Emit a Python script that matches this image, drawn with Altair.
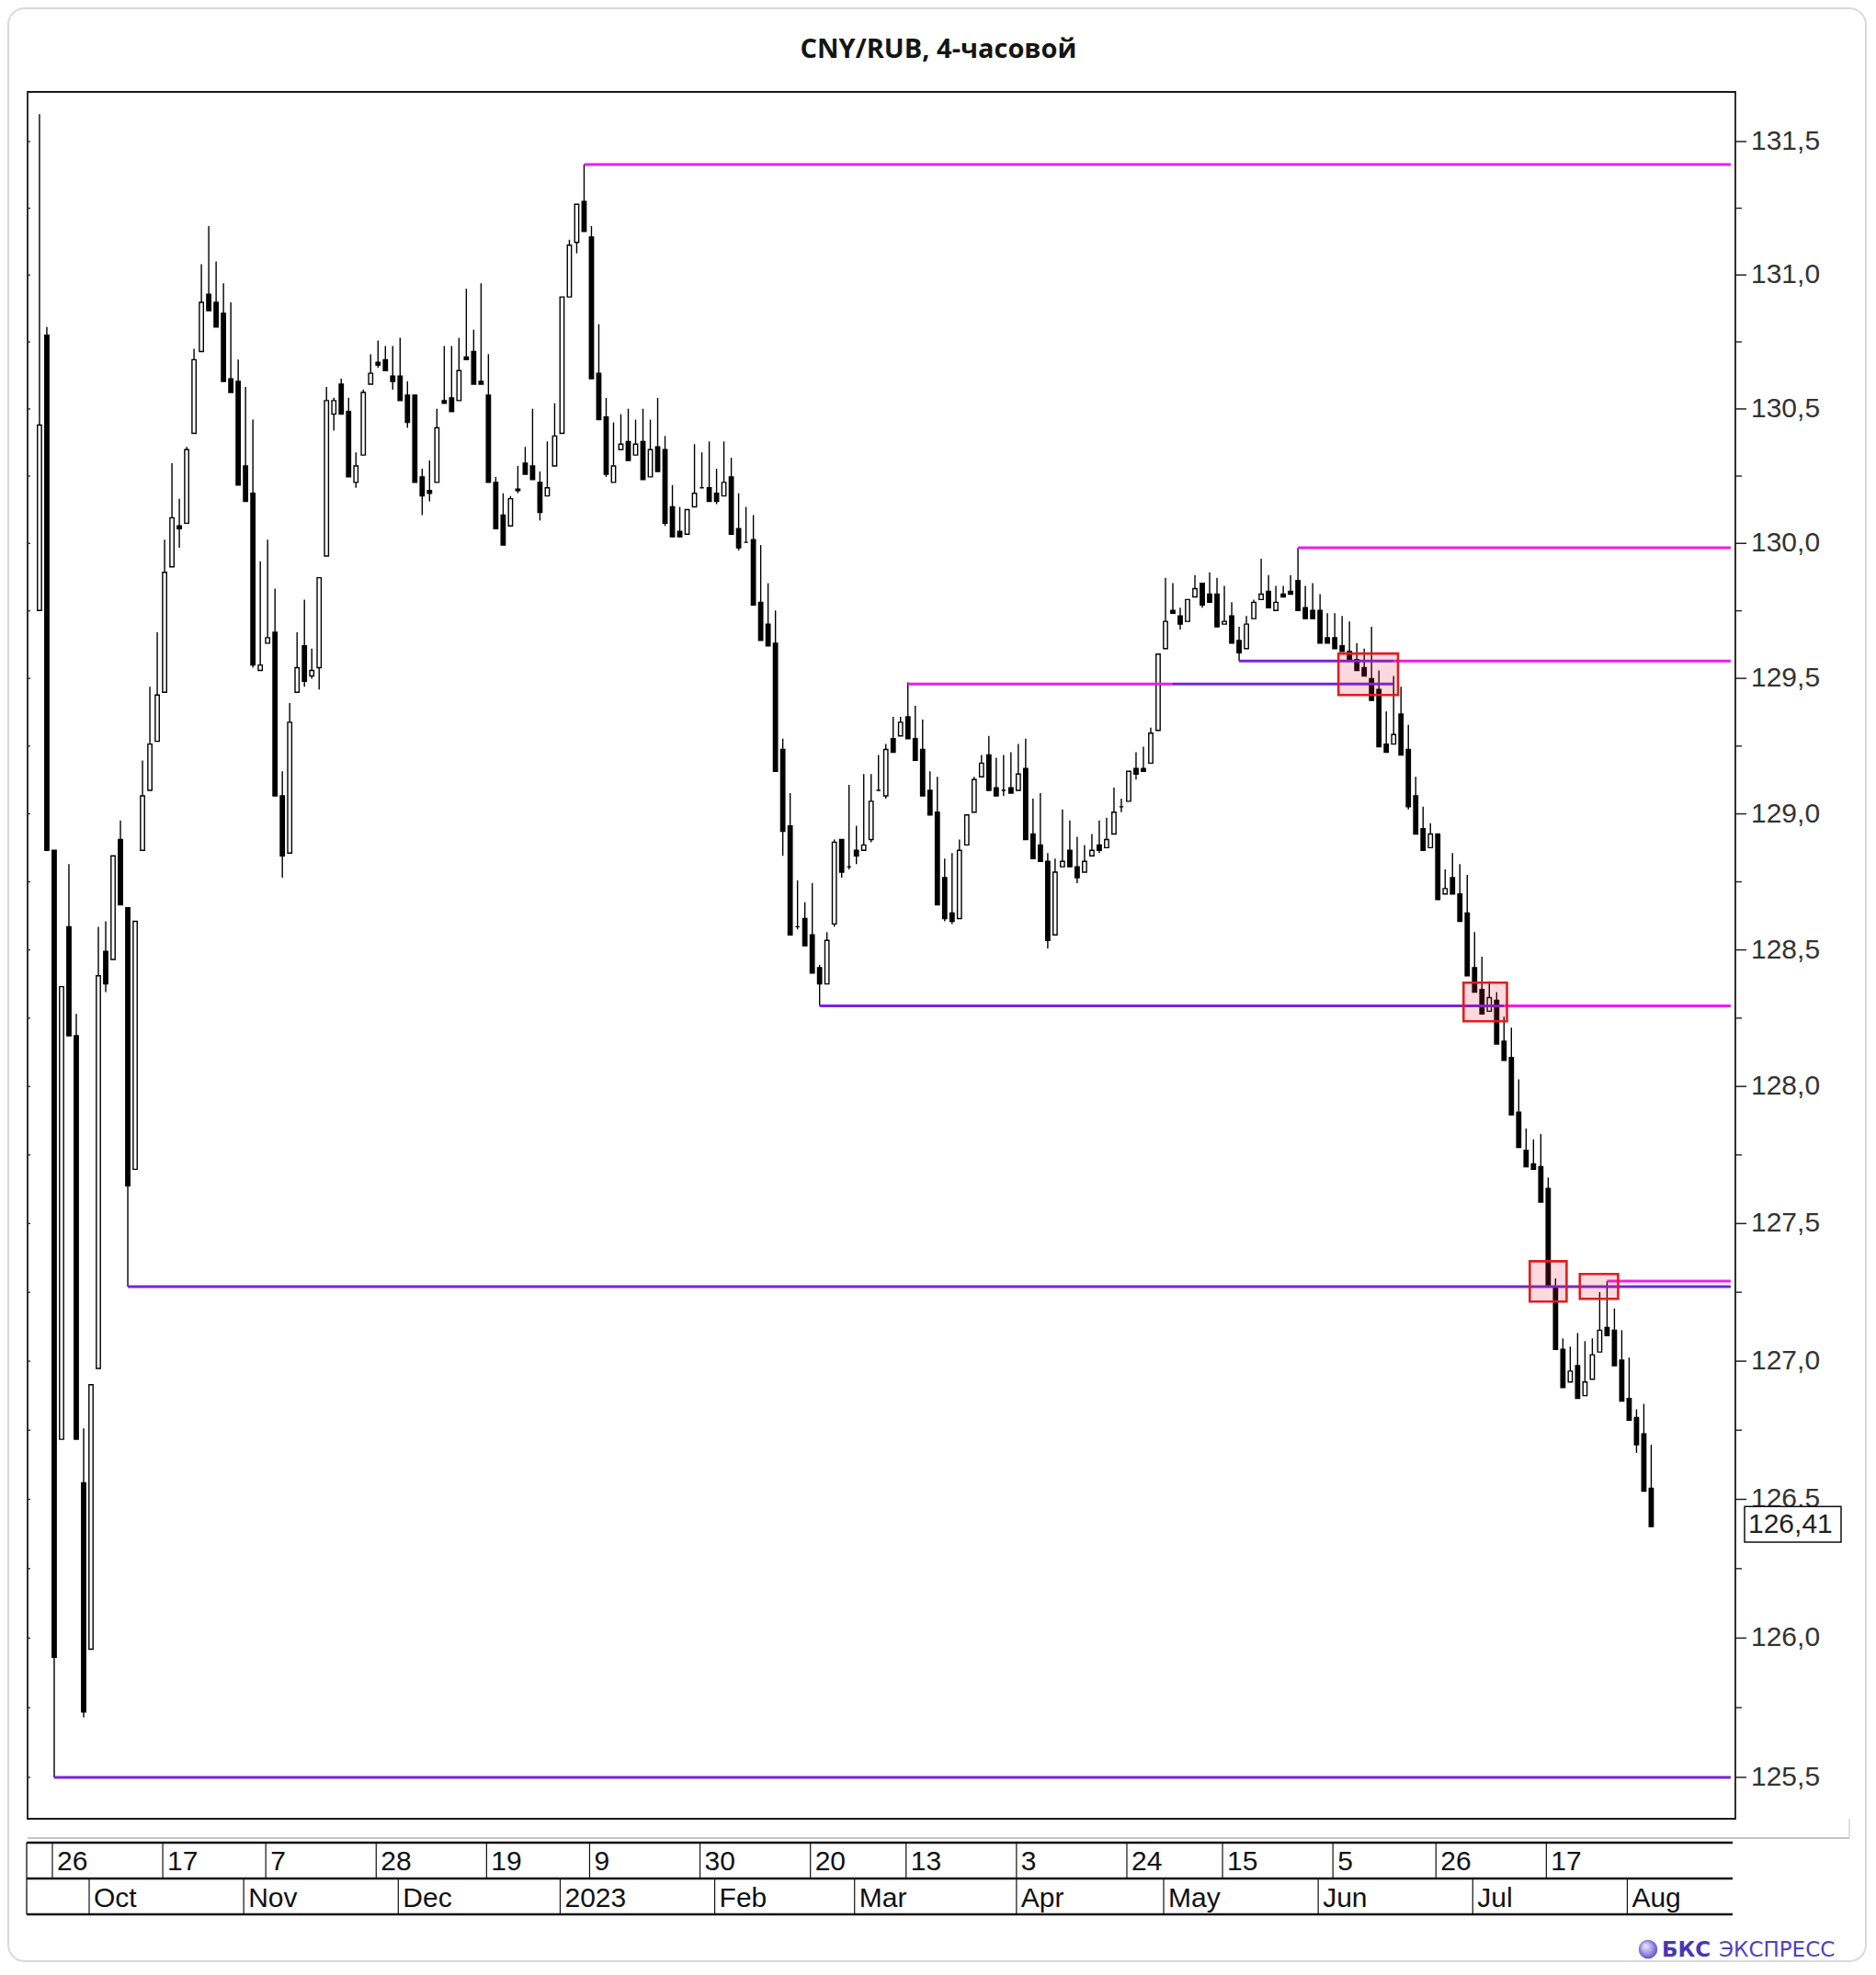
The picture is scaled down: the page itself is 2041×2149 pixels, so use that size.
import altair as alt
import pandas as pd

W, H = 1858, 1879

# The price axis of the reference is logarithmic. The candle values below were read
# against an evenly spaced ruler from 125.5 (bottom tick) to 131.5 (top tick);
# calib() turns such a ruler reading into the price on the log axis.
AX_TOP, AX_BOT = 131.5, 125.5


def calib(v):
    return AX_TOP * (AX_BOT / AX_TOP) ** ((AX_TOP - v) / (AX_TOP - AX_BOT))


# ---- daily candles (open, high, low, close), ruler readings ----
opens_read = [
129.78,130.79,128.90,126.74,128.62,128.22,126.58,125.97,127.00,128.53,
128.50,128.94,128.69,127.73,128.90,129.12,129.30,129.48,129.94,130.09,
130.10,130.43,130.73,130.94,130.91,130.87,130.63,130.62,130.31,130.21,
129.56,129.66,129.70,129.10,128.89,129.48,129.65,129.54,129.57,129.98,
130.50,130.61,130.51,130.25,130.35,130.61,130.69,130.70,130.64,130.64,
130.57,130.57,130.27,130.22,130.25,130.55,130.56,130.55,130.71,130.73,
130.62,130.57,130.25,130.13,130.09,130.22,130.32,130.31,130.25,130.20,
130.31,130.43,130.93,131.13,131.28,131.15,130.65,130.49,130.25,130.37,
130.40,130.35,130.40,130.27,130.38,130.37,130.16,130.07,130.06,130.16,
130.23,130.23,130.21,130.20,130.27,130.08,130.03,130.04,129.81,129.73,
129.66,129.27,128.99,128.62,128.65,128.59,128.47,128.41,128.63,128.94,
128.84,128.90,128.90,128.94,129.12,129.10,129.31,129.32,129.39,129.31,
129.27,129.12,129.04,128.80,128.67,128.65,128.92,129.04,129.17,129.25,
129.13,129.12,129.13,129.12,129.20,128.96,128.92,128.86,128.59,128.84,
128.90,128.84,128.82,128.88,128.92,128.91,128.96,129.06,129.08,129.20,
129.20,129.22,129.34,129.64,129.78,129.76,129.74,129.83,129.88,129.84,
129.84,129.73,129.76,129.67,129.64,129.75,129.82,129.85,129.78,129.84,
129.85,129.89,129.79,129.78,129.78,129.68,129.68,129.65,129.63,129.60,
129.57,129.53,129.49,129.29,129.29,129.40,129.27,129.10,128.98,128.91,
128.96,128.74,128.80,128.74,128.67,128.47,128.39,128.31,128.35,128.20,
128.14,127.94,127.80,127.75,127.74,127.66,127.30,127.07,126.95,127.01,
126.90,126.96,127.06,127.15,127.14,127.03,126.89,126.82,126.76,126.56]

highs_read = [
131.60,130.82,128.90,128.40,128.85,128.30,126.78,126.94,128.62,128.64,
128.88,129.01,128.69,128.64,129.23,129.50,129.70,130.04,130.32,130.19,
130.38,130.74,131.05,131.19,131.06,130.98,130.91,130.70,130.60,130.48,
129.96,130.04,129.86,129.19,129.44,129.70,129.82,129.64,129.90,130.60,
130.56,130.63,130.56,130.36,130.59,130.72,130.77,130.75,130.75,130.78,
130.62,130.57,130.30,130.33,130.52,130.75,130.75,130.78,130.96,130.81,
130.98,130.72,130.27,130.21,130.20,130.31,130.38,130.52,130.29,130.40,
130.54,130.93,131.14,131.27,131.416,131.19,130.83,130.56,130.47,130.50,
130.52,130.48,130.52,130.48,130.56,130.42,130.24,130.16,130.15,130.39,
130.36,130.40,130.30,130.40,130.34,130.21,130.16,130.13,130.02,129.88,
129.78,129.31,129.11,128.79,128.71,128.78,128.48,128.60,128.94,128.94,
129.14,128.99,129.18,129.18,129.25,129.29,129.39,129.39,129.516,129.43,
129.38,129.19,129.17,128.87,128.89,128.94,129.03,129.17,129.25,129.32,
129.24,129.25,129.26,129.29,129.31,129.09,129.11,128.89,128.87,129.05,
129.01,128.95,128.92,128.96,129.01,129.02,129.13,129.09,129.19,129.26,
129.28,129.35,129.62,129.90,129.88,129.79,129.82,129.91,129.88,129.92,
129.90,129.87,129.81,129.72,129.76,129.82,129.97,129.91,129.87,129.87,
129.91,130.01,129.87,129.88,129.84,129.77,129.77,129.76,129.74,129.66,
129.64,129.72,129.56,129.41,129.54,129.50,129.36,129.17,129.06,129.00,
128.96,128.83,128.89,128.85,128.81,128.60,128.51,128.42,128.38,128.29,
128.25,128.06,127.88,127.84,127.86,127.70,127.33,127.11,127.08,127.13,
127.10,127.11,127.28,127.32,127.22,127.14,127.04,126.85,126.87,126.72]

lows_read = [
129.78,128.90,125.50,126.74,128.22,126.74,125.72,125.97,127.00,128.38,
128.50,128.70,127.30,127.73,128.90,129.12,129.30,129.48,129.94,130.01,
130.10,130.43,130.73,130.88,130.82,130.62,130.58,130.24,130.18,129.57,
129.56,129.66,129.10,128.80,128.89,129.48,129.50,129.53,129.49,129.98,
130.44,130.50,130.27,130.23,130.35,130.61,130.67,130.66,130.59,130.55,
130.45,130.25,130.13,130.18,130.25,130.54,130.51,130.55,130.70,130.61,
130.61,130.25,130.08,130.02,130.09,130.21,130.28,130.26,130.11,130.20,
130.31,130.43,130.93,131.09,131.17,130.63,130.48,130.27,130.25,130.37,
130.33,130.35,130.26,130.27,130.29,130.09,130.05,130.05,130.06,130.16,
130.23,130.18,130.17,130.20,130.06,130.00,130.03,129.80,129.67,129.65,
129.19,128.88,128.59,128.61,128.55,128.45,128.33,128.41,128.62,128.80,
128.83,128.85,128.90,128.93,129.12,129.09,129.26,129.32,129.31,129.23,
129.10,129.03,128.70,128.64,128.63,128.65,128.92,129.04,129.17,129.12,
129.10,129.10,129.11,129.12,128.94,128.87,128.86,128.54,128.59,128.84,
128.84,128.78,128.82,128.88,128.89,128.91,128.96,129.04,129.08,129.16,
129.19,129.22,129.34,129.64,129.77,129.71,129.74,129.83,129.79,129.81,
129.72,129.73,129.66,129.595,129.64,129.75,129.82,129.79,129.78,129.83,
129.84,129.78,129.75,129.75,129.66,129.66,129.64,129.63,129.60,129.56,
129.54,129.45,129.28,129.26,129.29,129.25,129.05,128.96,128.90,128.91,
128.72,128.74,128.74,128.64,128.44,128.38,128.30,128.31,128.19,128.13,
127.93,127.81,127.74,127.73,127.61,127.30,127.07,126.93,126.95,126.89,
126.90,126.96,127.06,127.12,127.01,126.88,126.81,126.69,126.55,126.42]

closes_read = [
130.46,128.90,125.94,128.40,128.22,126.74,125.74,126.94,128.44,128.41,
128.88,128.70,127.67,128.64,129.10,129.29,129.47,129.92,130.12,130.08,
130.37,130.70,130.91,130.88,130.82,130.62,130.58,130.24,130.18,129.58,
129.58,129.68,129.10,128.88,129.37,129.57,129.52,129.56,129.90,130.55,
130.55,130.50,130.27,130.31,130.58,130.65,130.68,130.66,130.62,130.55,
130.47,130.25,130.20,130.21,130.45,130.54,130.51,130.66,130.70,130.61,
130.61,130.25,130.08,130.02,130.19,130.225,130.28,130.26,130.14,130.23,
130.42,130.93,131.12,131.27,131.17,130.63,130.48,130.28,130.31,130.39,
130.33,130.39,130.26,130.37,130.29,130.10,130.05,130.05,130.15,130.21,
130.23,130.18,130.18,130.25,130.06,130.01,130.03,129.80,129.67,129.65,
129.19,128.97,128.59,128.62,128.55,128.45,128.41,128.57,128.93,128.82,
128.84,128.88,128.92,129.08,129.12,129.27,129.26,129.37,129.31,129.23,
129.10,129.03,128.70,128.65,128.64,128.90,129.03,129.16,129.22,129.12,
129.10,129.12,129.11,129.18,128.94,128.87,128.86,128.57,128.82,128.86,
128.84,128.80,128.86,128.90,128.90,128.94,129.04,129.06,129.19,129.18,
129.19,129.33,129.62,129.74,129.77,129.73,129.82,129.86,129.80,129.81,
129.72,129.74,129.66,129.625,129.73,129.81,129.84,129.79,129.81,129.83,
129.84,129.78,129.75,129.75,129.66,129.66,129.64,129.63,129.60,129.56,
129.54,129.45,129.28,129.26,129.325,129.25,129.06,128.96,128.90,128.96,
128.72,128.76,128.74,128.64,128.44,128.38,128.30,128.36,128.19,128.13,
127.93,127.81,127.74,127.73,127.61,127.30,127.07,126.93,126.99,126.89,
126.95,127.05,127.14,127.12,127.01,126.88,126.81,126.72,126.55,126.42]

# ---- horizontal levels (ruler readings) ----
level_read = [131.416, 130.01, 129.595, 129.595, 129.51, 129.51, 128.33, 128.33, 127.30, 127.32, 125.50]
level_start = [74, 171, 163, 184, 118, 154, 106, 199, 12, 213, 2]
level_end = [229.8, 229.8, 184, 229.8, 154, 184, 199, 229.8, 229.8, 229.8, 229.8]
level_kind = ["magenta", "magenta", "purple", "magenta", "magenta", "purple",
              "purple", "magenta", "purple", "magenta", "purple"]

# ---- highlighted boxes (ruler readings) ----
box_x1 = [176.5, 193.5, 202.5, 209.3]
box_x2 = [184.6, 199.4, 207.5, 214.5]
box_top_read = [129.622, 128.415, 127.393, 127.346]
box_bottom_read = [129.470, 128.273, 127.245, 127.255]

# ---- axis labels ----
major_ticks = [125.5, 126.0, 126.5, 127.0, 127.5, 128.0, 128.5, 129.0, 129.5, 130.0, 130.5, 131.0, 131.5]
minor_ticks = [125.75, 126.25, 126.75, 127.25, 127.75, 128.25, 128.75, 129.25, 129.75, 130.25, 130.75, 131.25]
day_pos = [2, 17, 31, 46, 61, 75, 90, 105, 118, 133, 148, 161, 176, 190, 205]
day_labels = ["26", "17", "7", "28", "19", "9", "30", "20", "13", "3", "24", "15", "5", "26", "17"]
month_pos = [7, 28, 49, 71, 92, 111, 133, 153, 174, 195, 216]
month_labels = ["Oct", "Nov", "Dec", "2023", "Feb", "Mar", "Apr", "May", "Jun", "Jul", "Aug"]

last_price = 126.41
last_label = "126,41"

opens = [calib(v) for v in opens_read]
highs = [calib(v) for v in highs_read]
lows = [calib(v) for v in lows_read]
closes = [calib(v) for v in closes_read]
level_values = [calib(v) for v in level_read]
box_top = [calib(v) for v in box_top_read]
box_bottom = [calib(v) for v in box_bottom_read]
bar_index = list(range(len(opens)))

xs = alt.Scale(domain=[-0.994, 229.81], nice=False, zero=False)
ys = alt.Scale(type="log", domain=[125.3517, 131.6865], nice=False, zero=False)

one = pd.DataFrame({"k": [0]})
candles = pd.DataFrame(dict(i=bar_index, o=opens, h=highs, l=lows, c=closes))

card = alt.Chart(one).mark_rect(fillOpacity=0, stroke="#dadada", strokeWidth=2, cornerRadius=18).encode(
    x=alt.value(-21), x2=alt.value(2000), y=alt.value(-91), y2=alt.value(2034))

wicks = alt.Chart(candles).mark_rule(color="#000", strokeWidth=1.4).encode(
    x=alt.X("i:Q", scale=xs, axis=None),
    y=alt.Y("l:Q", scale=ys, axis=None),
    y2="h:Q")

bodies = alt.Chart(candles).transform_calculate(
    dir="datum.c > datum.o ? 'up' : 'down'"
).mark_bar(size=4.4, stroke="#000", strokeWidth=1.4).encode(
    x=alt.X("i:Q", scale=xs, axis=None),
    y=alt.Y("o:Q", scale=ys, axis=None),
    y2="c:Q",
    fill=alt.Fill("dir:N", scale=alt.Scale(domain=["up", "down"], range=["#ffffff", "#000000"]), legend=None))

levels_df = pd.DataFrame(dict(v=level_values, s=level_start, e=level_end, kind=level_kind))
levels = alt.Chart(levels_df).mark_rule(strokeWidth=3).encode(
    x=alt.X("s:Q", scale=xs, axis=None), x2="e:Q",
    y=alt.Y("v:Q", scale=ys, axis=None),
    color=alt.Color("kind:N", scale=alt.Scale(domain=["magenta", "purple"], range=["#ee1cee", "#7a22dc"]), legend=None))

boxes_df = pd.DataFrame(dict(x1=box_x1, x2=box_x2, t=box_top, b=box_bottom))
boxes = alt.Chart(boxes_df).mark_rect(fill="#e8203a", fillOpacity=0.17, stroke="#e01e1e", strokeWidth=2.6).encode(
    x=alt.X("x1:Q", scale=xs, axis=None), x2="x2:Q",
    y=alt.Y("t:Q", scale=ys, axis=None), y2="b:Q")

frame = alt.Chart(one).mark_rect(fillOpacity=0, stroke="#1a1a1a", strokeWidth=1.8).encode(
    x=alt.value(0), x2=alt.value(W), y=alt.value(0), y2=alt.value(H))

# right value axis drawn through the y scale
major_df = pd.DataFrame({"v": major_ticks})
right_major = alt.Chart(major_df).mark_rule(color="#222", strokeWidth=1.5).encode(
    x=alt.value(W), x2=alt.value(W + 12), y=alt.Y("v:Q", scale=ys, axis=None))
right_labels = alt.Chart(major_df).transform_calculate(
    lab="replace(format(datum.v, '.1f'), '.', ',')"
).mark_text(align="left", baseline="middle", font="Liberation Sans", fontSize=30, color="#333").encode(
    x=alt.value(W + 17), y=alt.Y("v:Q", scale=ys, axis=None), text="lab:N")
minor_df = pd.DataFrame({"v": minor_ticks})
right_minor = alt.Chart(minor_df).mark_rule(color="#222", strokeWidth=1.4).encode(
    x=alt.value(W), x2=alt.value(W + 7), y=alt.Y("v:Q", scale=ys, axis=None))
quarter_df = pd.DataFrame({"v": major_ticks + minor_ticks})
left_ticks = alt.Chart(quarter_df).mark_rule(color="#222", strokeWidth=1.3).encode(
    x=alt.value(0), x2=alt.value(3), y=alt.Y("v:Q", scale=ys, axis=None))

# date rows under the plot
sep_gray = alt.Chart(one).mark_rule(color="#c4c4c4", strokeWidth=2).encode(
    x=alt.value(0), x2=alt.value(1982), y=alt.value(1900))
sep_gray_v = alt.Chart(one).mark_rule(color="#d6d6d6", strokeWidth=1.5).encode(
    x=alt.value(1982), y=alt.value(1879), y2=alt.value(1900))
row_top = alt.Chart(one).mark_rule(color="#111", strokeWidth=2.6).encode(
    x=alt.value(-1), x2=alt.value(1855), y=alt.value(1905))
row_mid = alt.Chart(one).mark_rule(color="#111", strokeWidth=2.6).encode(
    x=alt.value(-1), x2=alt.value(1855), y=alt.value(1944))
row_bot = alt.Chart(one).mark_rule(color="#111", strokeWidth=2.6).encode(
    x=alt.value(-1), x2=alt.value(1855), y=alt.value(1983))
row_left = alt.Chart(one).mark_rule(color="#111", strokeWidth=1.3).encode(
    x=alt.value(-1), y=alt.value(1905), y2=alt.value(1983))

days_df = pd.DataFrame(dict(pos=day_pos, lab=day_labels))
day_sep = alt.Chart(days_df).mark_rule(color="#111", strokeWidth=1.2, xOffset=-2).encode(
    x=alt.X("pos:Q", scale=xs, axis=None), y=alt.value(1905), y2=alt.value(1944))
day_text = alt.Chart(days_df).mark_text(align="left", baseline="alphabetic", dx=3,
                                        font="Liberation Sans", fontSize=30, color="#111").encode(
    x=alt.X("pos:Q", scale=xs, axis=None), y=alt.value(1935), text="lab:N")

months_df = pd.DataFrame(dict(pos=month_pos, lab=month_labels))
month_sep = alt.Chart(months_df).mark_rule(color="#111", strokeWidth=1.2, xOffset=-2).encode(
    x=alt.X("pos:Q", scale=xs, axis=None), y=alt.value(1944), y2=alt.value(1983))
month_text = alt.Chart(months_df).mark_text(align="left", baseline="alphabetic", dx=3,
                                            font="Liberation Sans", fontSize=30, color="#111").encode(
    x=alt.X("pos:Q", scale=xs, axis=None), y=alt.value(1975), text="lab:N")

title = alt.Chart(one).mark_text(text="CNY/RUB, 4-часовой", font="Open Sans", fontWeight="bold",
                                 fontSize=29, color="#151515", align="center", baseline="alphabetic").encode(
    x=alt.value(991), y=alt.value(-37))

price_df = pd.DataFrame({"p": [last_price], "lab": [last_label]})
price_box = alt.Chart(price_df).transform_calculate(
    p1="datum.p + 0.064", p2="datum.p - 0.064"
).mark_rect(fill="white", stroke="#111", strokeWidth=1.5).encode(
    x=alt.value(W + 10), x2=alt.value(W + 115),
    y=alt.Y("p1:Q", scale=ys, axis=None), y2="p2:Q")
price_text = alt.Chart(price_df).mark_text(align="left", baseline="middle", font="Liberation Sans",
                                           fontSize=30, color="#222").encode(
    x=alt.value(W + 14), y=alt.Y("p:Q", scale=ys, axis=None), text="lab:N")

sphere = alt.Chart(one).mark_circle(
    size=420, opacity=1,
    fill={"gradient": "radial", "x1": 0.35, "y1": 0.3, "r1": 0.0, "x2": 0.5, "y2": 0.5, "r2": 0.6,
          "stops": [{"offset": 0, "color": "#f3f1fd"}, {"offset": 0.5, "color": "#a79ce8"},
                    {"offset": 1, "color": "#4a3bbf"}]}
).encode(x=alt.value(1763), y=alt.value(2021))
logo_bold = alt.Chart(one).mark_text(text="БКС", font="DejaVu Sans", fontWeight="bold", fontSize=23,
                                     color="#4637b8", align="left", baseline="alphabetic").encode(
    x=alt.value(1778), y=alt.value(2029))
logo_reg = alt.Chart(one).mark_text(text="ЭКСПРЕСС", font="DejaVu Sans", fontSize=23,
                                    color="#4f42c2", align="left", baseline="alphabetic").encode(
    x=alt.value(1840), y=alt.value(2029))

chart = alt.layer(
    card, wicks, bodies, levels, boxes, frame, left_ticks, right_major, right_labels, right_minor,
    sep_gray, sep_gray_v, row_top, row_mid, row_bot, row_left, day_sep, day_text, month_sep, month_text,
    title, price_box, price_text, sphere, logo_bold, logo_reg
).properties(
    width=W, height=H,
    autosize=alt.AutoSizeParams(type="none"),
    padding={"left": 22, "top": 92, "right": 143, "bottom": 156},
    background="white"
).configure_view(stroke=None)

chart.save("out.html", embed_options={"renderer": "svg", "actions": False})
